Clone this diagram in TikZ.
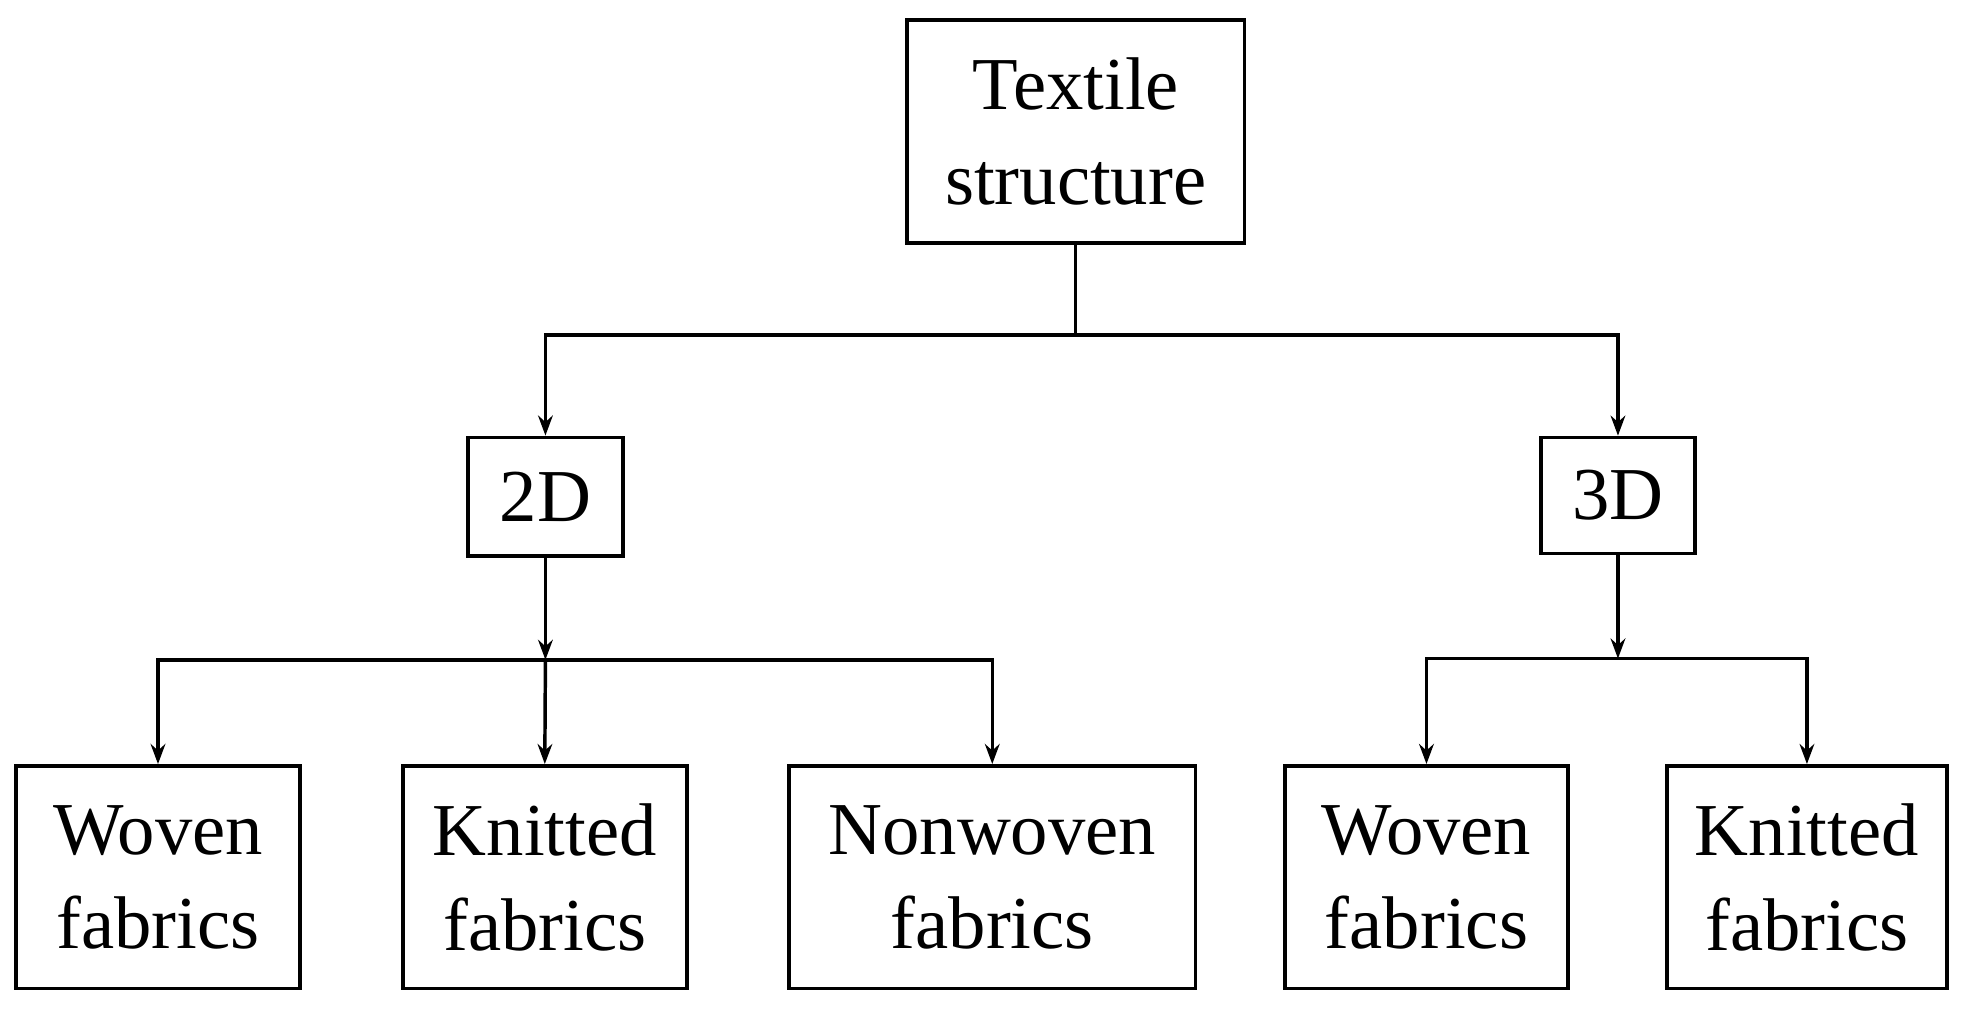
\documentclass[tikz,border=0pt]{standalone}
\usepackage{fontspec}
\setmainfont{Liberation Serif}
\usetikzlibrary{arrows.meta}
\begin{document}
\begin{tikzpicture}[x=0.948pt,y=0.948pt,yscale=-1,xscale=1,
  box/.style={draw,line width=2.8pt,inner sep=0pt,align=center,
    font=\fontsize{56}{71}\selectfont},
  link/.style={line width=2.6pt},
  arr/.style={link,-{Stealth[length=15pt,width=11pt]}}]
\useasboundingbox (0,0) rectangle (1568,804.5);

% boxes
\node [box,minimum width=253,minimum height=167] (root) at (851,104) {Textile\\structure};
\node [box,minimum width=116,minimum height=89] (twod) at (431.5,393) {2D};
\node [box,minimum width=115,minimum height=87] (threed) at (1280,392) {3D};
\node [box,minimum width=213,minimum height=167] (wov2) at (125,694) {Woven\\fabrics};
\node [box,minimum width=213,minimum height=167] (kni2) at (431,694) {Knitted\\fabrics};
\node [box,minimum width=305,minimum height=167] (non2) at (785,694) {Nonwoven\\fabrics};
\node [box,minimum width=212,minimum height=167] (wov3) at (1128.5,694) {Woven\\fabrics};
\node [box,minimum width=210,minimum height=167] (kni3) at (1429.5,694) {Knitted\\fabrics};

% junctions
\coordinate (j0) at (851,265);
\coordinate (j0l) at (twod.north |- j0);
\coordinate (j0r) at (threed.north |- j0);
\coordinate (j1) at (twod.south |- 0,522);
\coordinate (j1l) at (wov2.north |- j1);
\coordinate (j1r) at (non2.north |- j1);
\coordinate (j2) at (threed.south |- 0,521);
\coordinate (j2l) at (wov3.north |- j2);
\coordinate (j2r) at (kni3.north |- j2);

% connectors
\draw [link] (root.south) -- (j0);
\draw [arr] (j0) -- (j0l) -- (twod.north);
\draw [arr] (j0) -- (j0r) -- (threed.north);
\draw [arr] (twod.south) -- (j1);
\draw [arr] (j1) -- (kni2.north);
\draw [arr] (j1) -- (j1l) -- (wov2.north);
\draw [arr] (j1) -- (j1r) -- (non2.north);
\draw [arr] (threed.south) -- (j2);
\draw [arr] (j2) -- (j2l) -- (wov3.north);
\draw [arr] (j2) -- (j2r) -- (kni3.north);

\end{tikzpicture}
\end{document}
